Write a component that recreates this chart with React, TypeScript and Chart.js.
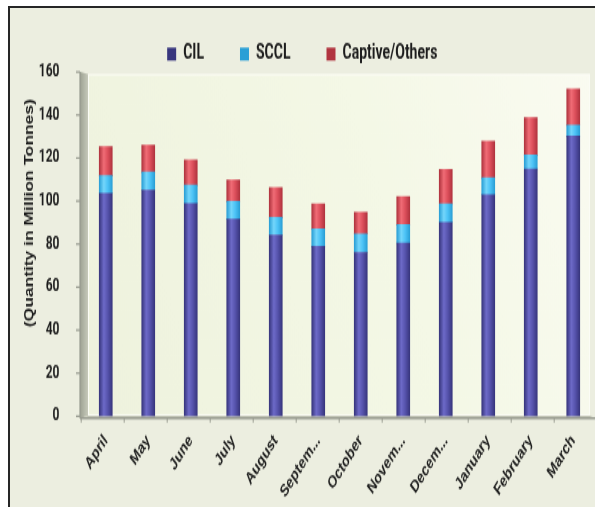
import React, { useEffect, useRef } from "react";
import { Chart, registerables } from "chart.js";

Chart.register(...registerables);

// ---- data ----
const months = [
  "April", "May", "June", "July", "August", "Septem...",
  "October", "Novem...", "Decem...", "January", "February", "March",
];
const seriesNames = ["CIL", "SCCL", "Captive/Others"];
const cilValues = [103.6, 105.1, 98.9, 91.5, 84.2, 78.9, 76.1, 80.5, 90.1, 102.9, 114.9, 130.1];
const scclValues = [8.2, 8.4, 8.5, 8.3, 8.2, 8.2, 8.6, 8.5, 8.6, 7.9, 6.5, 5.1];
const captiveValues = [13.5, 12.5, 11.7, 10.0, 13.8, 11.5, 10.0, 13.0, 15.9, 17.1, 17.3, 16.9];
const yTickValues = [0, 20, 40, 60, 80, 100, 120, 140, 160];
const yTitle = "(Quantity in Million Tonnes)";

// ---- layout ----
const W = 585;
const H = 344;
const STRETCH = 499 / H;

const NARROW = "Roboto, 'Liberation Sans', sans-serif";
const ARIAL = "'Liberation Sans', Arial, sans-serif";
const TEXT = "#1c1c1c";

function cylinderFill(solid: string, dark: string, light: string) {
  return (ctx: any) => {
    if (ctx.type !== "data") return solid;
    const chart = ctx.chart;
    const xs = chart.scales && chart.scales.x;
    if (!xs || !chart.chartArea) return solid;
    const cx = xs.getPixelForValue(ctx.dataIndex);
    const g = chart.ctx.createLinearGradient(cx - 6.5, 0, cx + 6.5, 0);
    g.addColorStop(0, dark);
    g.addColorStop(0.35, light);
    g.addColorStop(0.65, solid);
    g.addColorStop(1, dark);
    return g;
  };
}

const decorPlugin = {
  id: "decor3d",
  beforeDraw(chart: any) {
    const { ctx, chartArea: ca } = chart;
    const ys = chart.scales.y;
    const frontLeft = ca.left - 4.5;
    const backLeft = frontLeft + 8;
    const backRight = ca.right - 4.5;
    const backTop = ca.top + 1.4;
    const backBottom = ca.bottom - 0.5;
    const frontBottom = ca.bottom + 1.4;
    ctx.save();
    // back plane
    const bg = ctx.createLinearGradient(backLeft, backBottom, backRight, backTop);
    bg.addColorStop(0, "#eef2dd");
    bg.addColorStop(0.6, "#f4f8e6");
    bg.addColorStop(1, "#fafbf1");
    ctx.fillStyle = bg;
    ctx.fillRect(backLeft, backTop, backRight - backLeft, backBottom - backTop);
    ctx.strokeStyle = "#fbfcf5";
    ctx.lineWidth = 1;
    ctx.strokeRect(backLeft + 0.5, backTop + 0.5, backRight - backLeft - 1, backBottom - backTop - 1);
    // side wall
    const wg = ctx.createLinearGradient(frontLeft, 0, backLeft, 0);
    wg.addColorStop(0, "#9ea293");
    wg.addColorStop(1, "#c6c9ba");
    ctx.fillStyle = wg;
    ctx.beginPath();
    ctx.moveTo(frontLeft, ca.top);
    ctx.lineTo(backLeft, backTop);
    ctx.lineTo(backLeft, backBottom);
    ctx.lineTo(frontLeft, frontBottom);
    ctx.closePath();
    ctx.fill();
    // floor
    ctx.fillStyle = "#c3c6b7";
    ctx.beginPath();
    ctx.moveTo(frontLeft, frontBottom);
    ctx.lineTo(backLeft, backBottom);
    ctx.lineTo(backRight, backBottom);
    ctx.lineTo(W, frontBottom);
    ctx.closePath();
    ctx.fill();
    // front axes
    ctx.strokeStyle = "#989b90";
    ctx.lineWidth = 1.2;
    ctx.beginPath();
    ctx.moveTo(frontLeft, ca.top);
    ctx.lineTo(frontLeft, frontBottom);
    ctx.stroke();
    for (const v of yTickValues) {
      const y = ys.getPixelForValue(v);
      ctx.beginPath();
      ctx.moveTo(frontLeft - 4, y);
      ctx.lineTo(frontLeft, y);
      ctx.stroke();
    }
    ctx.lineWidth = 1.4;
    ctx.beginPath();
    ctx.moveTo(frontLeft, frontBottom);
    ctx.lineTo(W, frontBottom);
    ctx.stroke();
    const step = ((ca.right - ca.left) / months.length) * (43 / 42.5);
    ctx.lineWidth = 1;
    for (let k = 0; k < months.length; k++) {
      const x = frontLeft + 1.2 + step * k;
      ctx.beginPath();
      ctx.moveTo(x, frontBottom);
      ctx.lineTo(x, frontBottom + 3);
      ctx.stroke();
    }
    ctx.restore();
  },
  afterDraw(chart: any) {
    const { ctx, chartArea: ca } = chart;
    ctx.save();
    ctx.translate(20, ca.top + (ca.bottom - ca.top) * 0.41);
    ctx.rotate(-Math.PI / 2);
    ctx.font = `bold 12px ${ARIAL}`;
    ctx.fillStyle = TEXT;
    ctx.textAlign = "center";
    ctx.textBaseline = "middle";
    ctx.fillText(yTitle, 0, 0);
    ctx.restore();
  },
};

export default function App() {
  const ref = useRef<HTMLCanvasElement | null>(null);

  useEffect(() => {
    const canvas = ref.current;
    if (!canvas) return;
    const chart = new Chart(canvas, {
      type: "bar",
      data: {
        labels: months,
        datasets: [
          {
            label: seriesNames[0],
            data: cilValues,
            backgroundColor: cylinderFill("#5653ac", "#38367e", "#6d6ac8") as any,
            borderWidth: 0,
            barThickness: 13,
          },
          {
            label: seriesNames[1],
            data: scclValues,
            backgroundColor: cylinderFill("#4cc3f6", "#2a9fd6", "#74d6fb") as any,
            borderWidth: 0,
            barThickness: 13,
          },
          {
            label: seriesNames[2],
            data: captiveValues,
            backgroundColor: cylinderFill("#dc4f5b", "#b1343f", "#f06c76") as any,
            borderWidth: 0,
            barThickness: 13,
          },
        ],
      },
      options: {
        responsive: false,
        animation: false,
        devicePixelRatio: 1,
        layout: { padding: { top: -11.3, left: 0, right: 0.5, bottom: 0 } },
        plugins: {
          legend: {
            display: true,
            position: "top",
            maxHeight: 55.4,
            labels: {
              boxWidth: 9,
              boxHeight: 9,
              padding: 36,
              color: TEXT,
              font: { family: NARROW, size: 14, weight: "bold" },
            },
          },
          tooltip: { enabled: false },
        },
        scales: {
          x: {
            stacked: true,
            grid: { display: false, drawTicks: false },
            border: { display: false },
            ticks: {
              autoSkip: false,
              minRotation: 48,
              maxRotation: 48,
              padding: 10,
              color: TEXT,
              font: { family: ARIAL, size: 12, weight: "bold" },
            },
            afterFit: (scale: any) => {
              scale.height = 62.6;
            },
          },
          y: {
            stacked: true,
            min: 0,
            max: 160,
            grid: { display: false, drawTicks: false },
            border: { display: false },
            ticks: {
              stepSize: 20,
              padding: 25,
              color: TEXT,
              font: { family: NARROW, size: 12, weight: "bold" },
            },
            afterFit: (scale: any) => {
              scale.width = 74.5;
            },
          },
        },
      },
      plugins: [decorPlugin],
    });
    return () => chart.destroy();
  }, []);

  return (
    <div
      style={{
        position: "absolute",
        left: 8,
        top: 6,
        width: W,
        height: 499,
        borderTop: "2px solid #262626",
        borderLeft: "2px solid #262626",
        background: "#eceee0",
        overflow: "hidden",
      }}
    >
      <canvas
        ref={ref}
        width={W}
        height={H}
        style={{
          display: "block",
          width: `${W}px`,
          height: `${H}px`,
          transform: `scaleY(${STRETCH})`,
          transformOrigin: "0 0",
        }}
      />
    </div>
  );
}
